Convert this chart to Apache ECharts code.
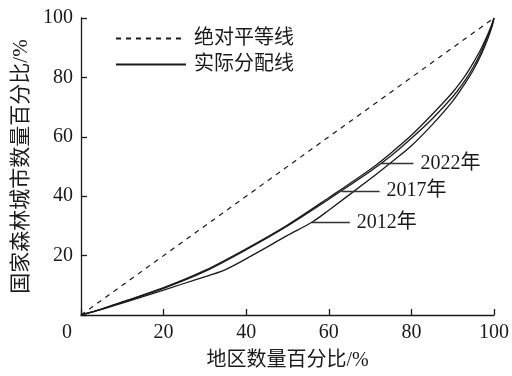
<!DOCTYPE html>
<html><head><meta charset="utf-8">
<script src="https://cdn.jsdelivr.net/npm/echarts@6/dist/echarts.min.js"></script>
<style>html,body{margin:0;padding:0;background:#fff}#c{width:512px;height:376px}</style>
</head><body><div id="c"></div>
<script>
var xTicks = [0, 20, 40, 60, 80, 100];
var equality = [[0, 0], [100, 100]];
var y2022 = [[0,0],[5,2],[10,4.4],[20,9.2],[30,15],[40,22.3],[50,30.3],[60,39.5],[70,49],[75,54.5],[80,60.5],[85,67.5],[90,75],[93,80.5],[95,85],[97,90],[98.5,94.5],[99.5,98],[100,100]];
var y2017 = [[0,0],[5,2],[10,4.3],[20,9],[30,14.7],[40,22],[50,30],[60,39],[70,48.3],[75,53.5],[80,59.5],[85,66],[90,73.5],[93,79],[95,83.5],[97,89],[98.5,94],[99.5,97.5],[100,100]];
var y2012 = [[0,0],[5,1.9],[10,4],[20,8.4],[28,12],[35,15.3],[42,20.5],[50,26.8],[56,31.3],[60,35.3],[70,45.8],[75,51.3],[80,57],[85,64],[90,72],[93,78],[95,82.5],[97,88],[98.5,93],[99.5,97],[100,100]];
var yearLabels = ['2022年', '2017年', '2012年'];
var leaders = [[[72.8, 51], [80.5, 51]], [[63.1, 41.7], [72.3, 41.7]], [[55.9, 31.1], [65.1, 31.1]]];
var legendNames = ['绝对平等线', '实际分配线'];

var FONT = "'Liberation Serif', 'Noto Sans CJK SC', serif";
var INK = '#1a1a1a';
function curve(data, i) {
  return {
    type: 'line', data: data, smooth: 0.3, symbol: 'none', silent: true,
    lineStyle: {color: INK, width: 1.3},
    markLine: {
      silent: true, symbol: 'none',
      lineStyle: {color: '#333', width: 1.3, type: 'solid'},
      label: {show: true, position: 'end', formatter: yearLabels[i], color: INK,
              fontFamily: FONT, fontSize: 20, distance: 7},
      data: [[{coord: leaders[i][0]}, {coord: leaders[i][1]}]]
    }
  };
}
var chart = echarts.init(document.getElementById('c'), null, {renderer: 'canvas'});
chart.setOption({
  animation: false,
  textStyle: {fontFamily: FONT, color: INK},
  grid: {left: 81, right: 16, top: 18, bottom: 56},
  legend: {
    orient: 'vertical', left: 110, top: 23, itemWidth: 70, itemHeight: 14, itemGap: 5,
    itemStyle: {opacity: 0},
    textStyle: {fontFamily: FONT, fontSize: 20, lineHeight: 21, color: INK, padding: [0, 0, 0, 3]},
    data: legendNames
  },
  xAxis: {
    type: 'value', min: 0, max: 100, interval: 20,
    name: '地区数量百分比/%', nameLocation: 'middle', nameGap: 36,
    nameTextStyle: {fontFamily: FONT, fontSize: 20, color: INK},
    axisLine: {lineStyle: {color: INK, width: 1.3}},
    axisTick: {inside: true, length: 6, lineStyle: {color: INK, width: 1.3}},
    axisLabel: {fontFamily: FONT, fontSize: 20, color: INK, margin: 8,
      formatter: function (v) { return v === 0 ? '{o|0}' : String(v); },
      rich: {o: {fontFamily: FONT, fontSize: 20, color: INK, padding: [0, 28, 0, 0]}}},
    splitLine: {show: false}
  },
  yAxis: {
    type: 'value', min: 0, max: 100, interval: 20,
    name: '国家森林城市数量百分比/%', nameLocation: 'middle', nameGap: 48,
    nameTextStyle: {fontFamily: FONT, fontSize: 21, color: INK},
    axisLine: {show: true, lineStyle: {color: INK, width: 1.3}},
    axisTick: {show: true, inside: true, length: 6, lineStyle: {color: INK, width: 1.3}},
    axisLabel: {fontFamily: FONT, fontSize: 20, color: INK, margin: 8,
      formatter: function (v) { return v === 0 ? '' : String(v); }},
    splitLine: {show: false}
  },
  series: [
    {name: legendNames[0], type: 'line', data: equality, symbol: 'none', silent: true,
     itemStyle: {color: INK}, lineStyle: {color: INK, width: 1.2, type: [5, 5]}},
    {name: legendNames[1], type: 'line', data: [], symbol: 'none',
     itemStyle: {color: INK}, lineStyle: {color: INK, width: 1.3}},
    curve(y2022, 0), curve(y2017, 1), curve(y2012, 2)
  ]
});
</script></body></html>
